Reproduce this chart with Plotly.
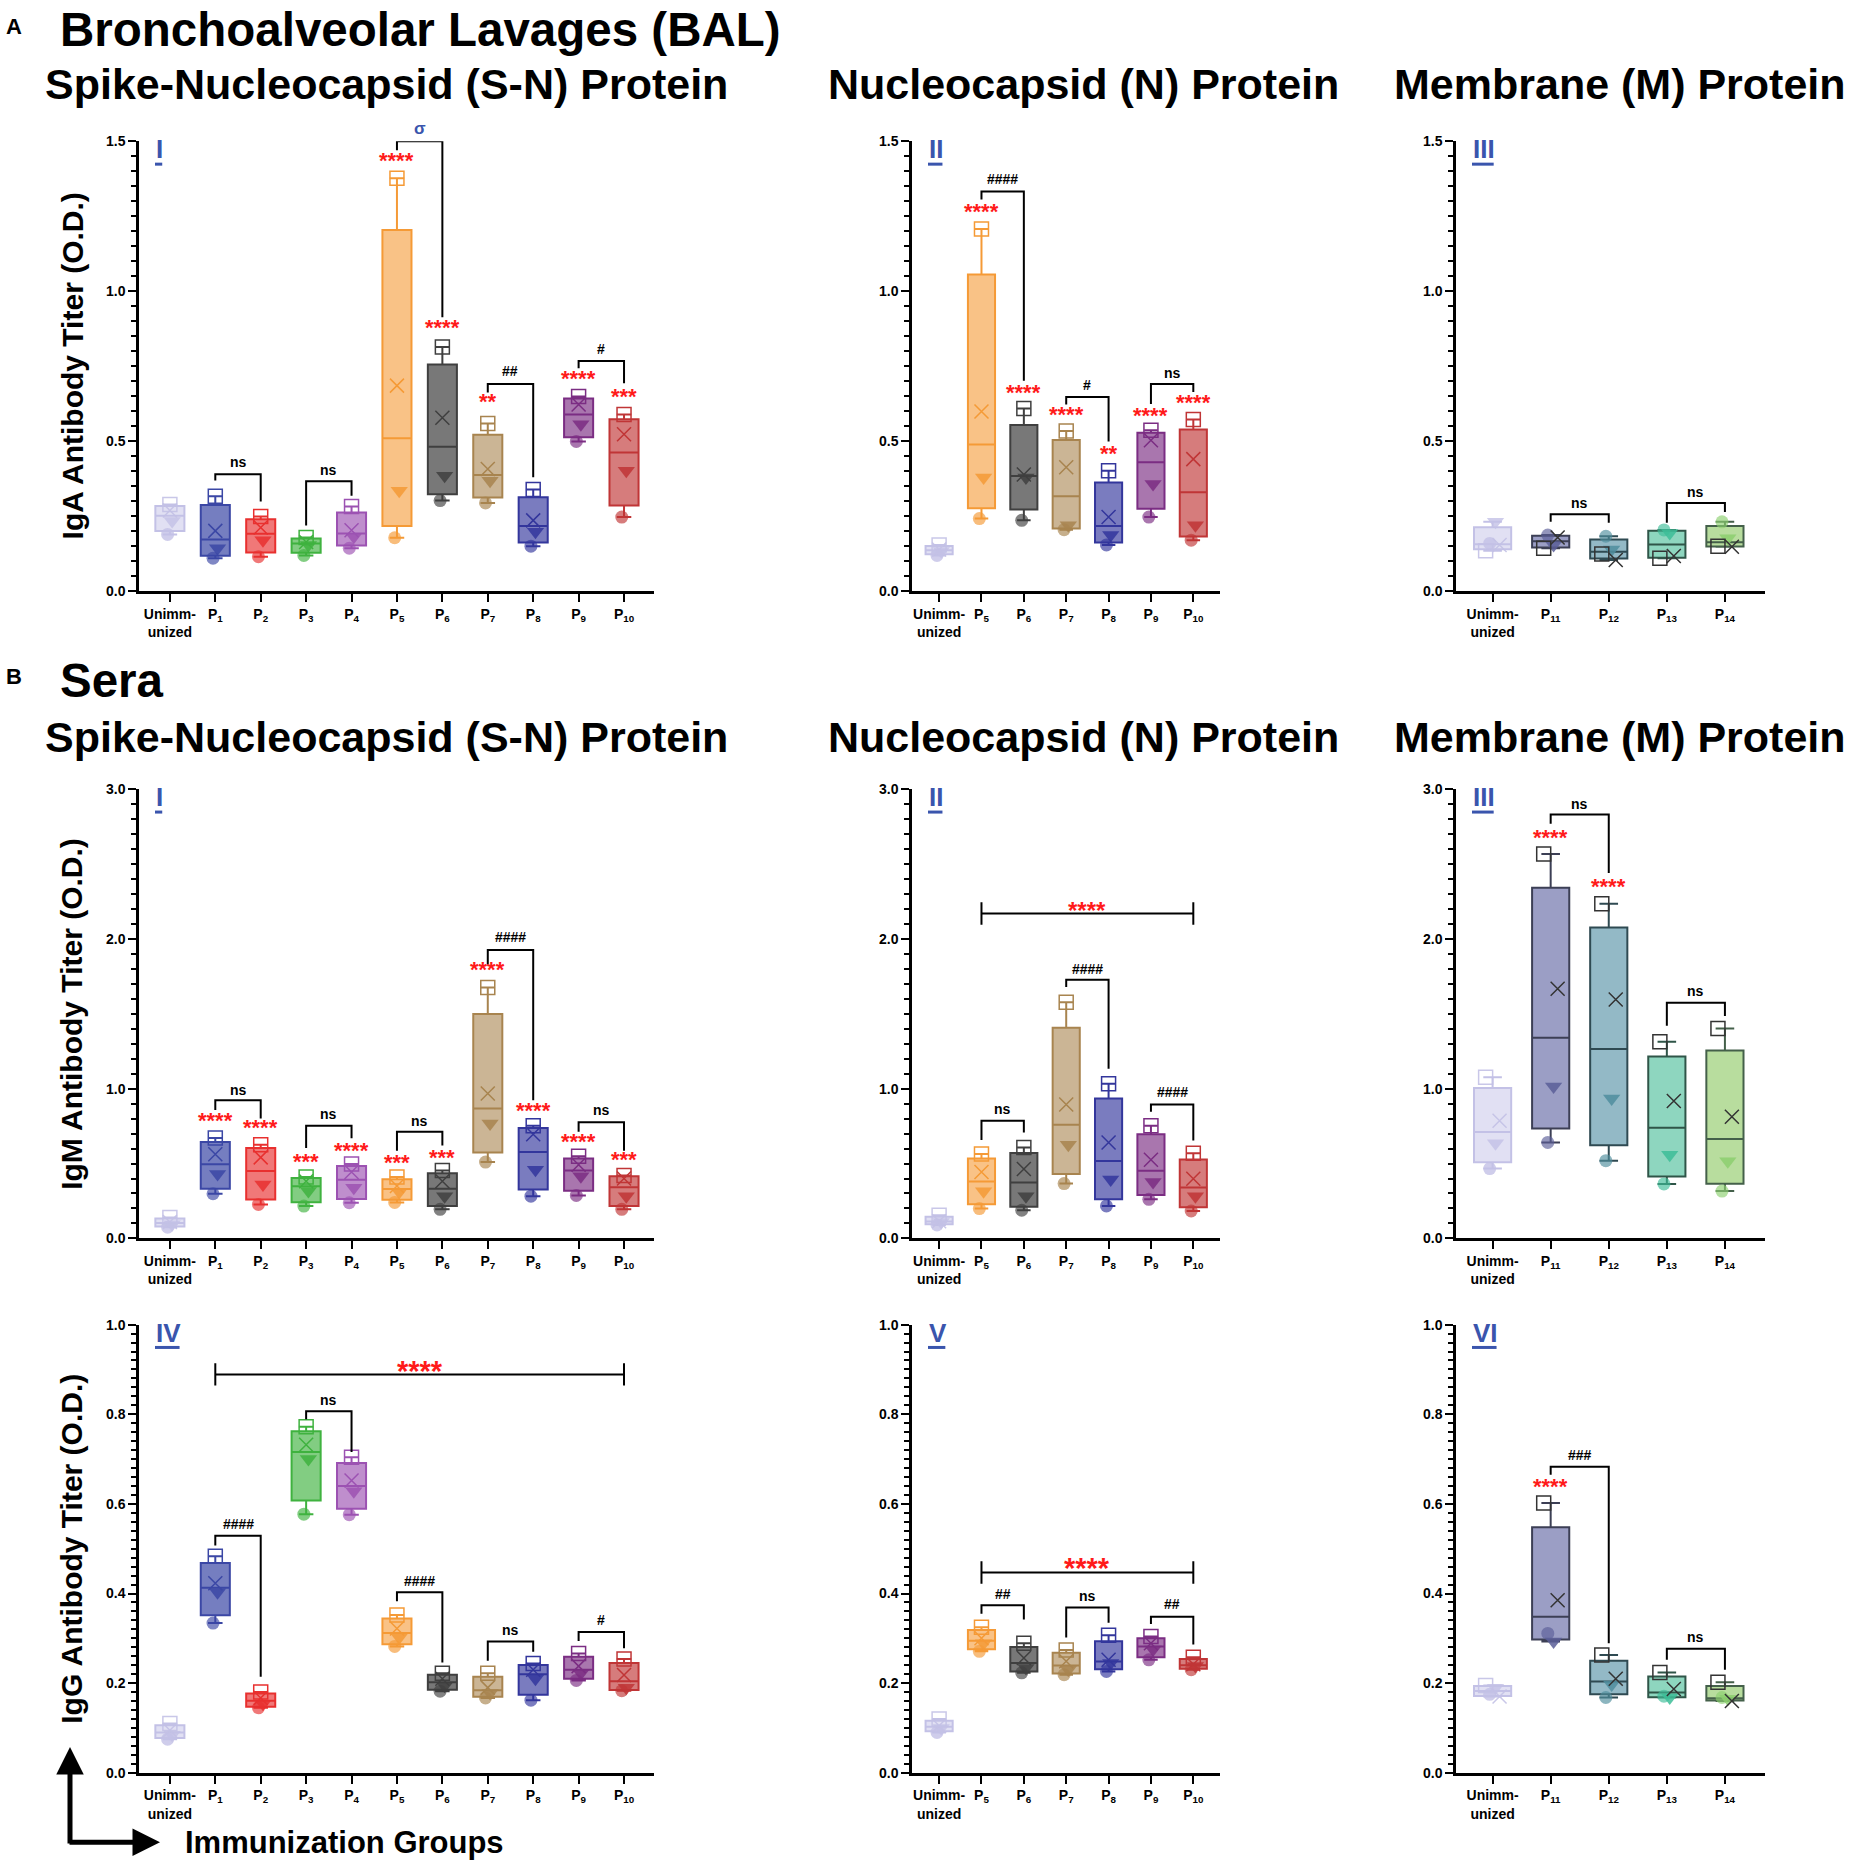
import numpy as np
import plotly.graph_objects as go

W, H = 1850, 1871
FONT = "Liberation Sans, Arial, Helvetica, sans-serif"

# ---------------- group labels ----------------
sn_keys = ["U"] + [f"P{i}" for i in range(1, 11)]
n_keys = ["U"] + [f"P{i}" for i in range(5, 11)]
m_keys = ["U"] + [f"P{i}" for i in range(11, 15)]

# ---------------- data (4 mice per group: square, cross, triangle, circle) ----------------
# A-I  IgA, S-N protein
iga_sn_square = [0.29, 0.317, 0.25, 0.18, 0.283, 1.377, 0.815, 0.56, 0.34, 0.65, 0.59]
iga_sn_cross = [0.27, 0.202, 0.213, 0.165, 0.204, 0.686, 0.579, 0.408, 0.237, 0.623, 0.524]
iga_sn_tri = [0.235, 0.144, 0.171, 0.155, 0.182, 0.336, 0.386, 0.369, 0.199, 0.557, 0.402]
iga_sn_circle = [0.19, 0.111, 0.116, 0.12, 0.144, 0.179, 0.303, 0.295, 0.151, 0.50, 0.248]

# A-II  IgA, N protein
iga_n_square = [0.155, 1.208, 0.61, 0.535, 0.402, 0.537, 0.573]
iga_n_cross = [0.14, 0.60, 0.39, 0.414, 0.248, 0.504, 0.441]
iga_n_tri = [0.135, 0.38, 0.38, 0.221, 0.188, 0.358, 0.221]
iga_n_circle = [0.12, 0.243, 0.237, 0.206, 0.155, 0.248, 0.171]

# A-III  IgA, M protein
iga_m_square = [0.136, 0.144, 0.125, 0.111, 0.151]
iga_m_cross = [0.155, 0.18, 0.105, 0.118, 0.149]
iga_m_tri = [0.232, 0.155, 0.14, 0.195, 0.177]
iga_m_circle = [0.16, 0.188, 0.184, 0.205, 0.232]

# B-I  IgM, S-N protein
igm_sn_square = [0.14, 0.67, 0.625, 0.41, 0.497, 0.41, 0.453, 1.675, 0.752, 0.548, 0.42]
igm_sn_cross = [0.11, 0.562, 0.541, 0.382, 0.444, 0.35, 0.382, 0.968, 0.695, 0.492, 0.40]
igm_sn_tri = [0.095, 0.43, 0.36, 0.316, 0.338, 0.31, 0.282, 0.768, 0.459, 0.415, 0.282]
igm_sn_circle = [0.075, 0.298, 0.227, 0.216, 0.238, 0.24, 0.194, 0.51, 0.282, 0.287, 0.194]

# B-II  IgM, N protein
igm_n_square = [0.155, 0.563, 0.607, 1.578, 1.033, 0.753, 0.569]
igm_n_cross = [0.115, 0.444, 0.463, 0.894, 0.64, 0.525, 0.398]
igm_n_tri = [0.11, 0.315, 0.282, 0.625, 0.393, 0.377, 0.282]
igm_n_circle = [0.09, 0.199, 0.188, 0.366, 0.217, 0.261, 0.183]

# B-III  IgM, M protein
igm_m_square = [1.077, 2.567, 2.236, 1.314, 1.402]
igm_m_cross = [0.786, 1.667, 1.596, 0.918, 0.812]
igm_m_tri = [0.636, 1.014, 0.934, 0.559, 0.515]
igm_m_circle = [0.466, 0.641, 0.519, 0.364, 0.316]

# B-IV  IgG, S-N protein
igg_sn_square = [0.11, 0.483, 0.18, 0.772, 0.704, 0.352, 0.222, 0.222, 0.244, 0.266, 0.254]
igg_sn_cross = [0.095, 0.423, 0.167, 0.732, 0.652, 0.322, 0.21, 0.19, 0.23, 0.238, 0.218]
igg_sn_tri = [0.085, 0.403, 0.154, 0.70, 0.628, 0.302, 0.194, 0.178, 0.21, 0.222, 0.19]
igg_sn_circle = [0.075, 0.334, 0.145, 0.577, 0.576, 0.282, 0.182, 0.167, 0.162, 0.206, 0.183]

# B-V  IgG, N protein
igg_n_square = [0.12, 0.325, 0.289, 0.274, 0.307, 0.304, 0.258]
igg_n_cross = [0.105, 0.30, 0.256, 0.249, 0.252, 0.289, 0.242]
igg_n_tri = [0.10, 0.289, 0.234, 0.23, 0.245, 0.275, 0.238]
igg_n_circle = [0.09, 0.271, 0.223, 0.219, 0.226, 0.252, 0.23]

# B-VI  IgG, M protein
igg_m_square = [0.195, 0.602, 0.263, 0.224, 0.202]
igg_m_cross = [0.17, 0.385, 0.21, 0.187, 0.16]
igg_m_tri = [0.19, 0.293, 0.197, 0.168, 0.165]
igg_m_circle = [0.175, 0.311, 0.168, 0.171, 0.168]

# ---------------- colours ----------------
EDGE = {"U": "#c3c1e6", "P1": "#3b47a5", "P2": "#e8302f", "P3": "#3fb23f", "P4": "#9c52b2",
        "P5": "#f59a36", "P6": "#3f3f3f", "P7": "#a8844f", "P8": "#33369c", "P9": "#7b2d83",
        "P10": "#c03536", "P11": "#3c3f55", "P12": "#2f4a52", "P13": "#2f5548", "P14": "#44604a"}
FILL = {"U": "rgba(200,198,234,0.55)", "P1": "rgba(59,71,165,0.7)", "P2": "rgba(232,48,47,0.65)",
        "P3": "rgba(63,178,63,0.65)", "P4": "rgba(156,82,178,0.65)", "P5": "rgba(245,154,54,0.6)",
        "P6": "rgba(63,63,63,0.7)", "P7": "rgba(168,132,79,0.6)", "P8": "rgba(51,54,156,0.65)",
        "P9": "rgba(123,45,131,0.65)", "P10": "rgba(192,53,54,0.65)", "P11": "#9b9ec5",
        "P12": "#93b9c6", "P13": "#8ed6bf", "P14": "#b8dd9e"}
# triangle / circle colour for the M-protein groups
MARK = {"P11": "#5a5e98", "P12": "#4f8d9d", "P13": "#3dbd98", "P14": "#8ccf6f"}
RED = "#ff1a1a"
BLUE = "#3a55ad"


def rgba(h, a):
    h = h.lstrip("#")
    return f"rgba({int(h[0:2], 16)},{int(h[2:4], 16)},{int(h[4:6], 16)},{a})"


# ---------------- panel geometry (pixels) ----------------
COLS = [(139, 654, [-0.68, 10.66]), (912, 1220, [-0.64, 6.63]), (1456, 1765, [-0.63, 4.69])]
ROWS = [(134.5, 588.5, 1.5, 0.5, 0.05), (788, 1241, 3.0, 1.0, 0.1), (1328, 1780, 1.0, 0.2, 0.02)]

# brackets: (i, j, y_top, y_left_end, y_right_end, text, text_y)
# bars: (i, j, y, text, text_y, star size); stars: (i, text, y)
panels = [
    dict(row=0, col=0, keys=sn_keys, label="I",
         data=(iga_sn_square, iga_sn_cross, iga_sn_tri, iga_sn_circle),
         brackets=[(1, 2, 0.391, 0.37, 0.30, "ns", 0.431), (3, 4, 0.367, 0.22, 0.319, "ns", 0.406),
                   (5, 6, 1.50, 1.47, 0.914, "σ", 1.544), (7, 8, 0.691, 0.663, 0.381, "##", 0.735),
                   (9, 10, 0.768, 0.744, 0.694, "#", 0.808)],
         bars=[],
         stars=[(5, "****", 1.432), (6, "****", 0.877), (7, "**", 0.629), (9, "****", 0.705),
                (10, "***", 0.647)]),
    dict(row=0, col=1, keys=n_keys, label="II",
         data=(iga_n_square, iga_n_cross, iga_n_tri, iga_n_circle),
         brackets=[(1, 2, 1.333, 1.306, 0.702, "####", 1.374), (3, 4, 0.648, 0.623, 0.50, "#", 0.689),
                   (5, 6, 0.691, 0.625, 0.665, "ns", 0.727)],
         bars=[],
         stars=[(1, "****", 1.264), (2, "****", 0.661), (3, "****", 0.587), (4, "**", 0.455),
                (5, "****", 0.584), (6, "****", 0.625)]),
    dict(row=0, col=2, keys=m_keys, label="III",
         data=(iga_m_square, iga_m_cross, iga_m_tri, iga_m_circle),
         brackets=[(1, 2, 0.257, 0.232, 0.229, "ns", 0.295), (3, 4, 0.295, 0.229, 0.265, "ns", 0.331)],
         bars=[], stars=[]),
    dict(row=1, col=0, keys=sn_keys, label="I",
         data=(igm_sn_square, igm_sn_cross, igm_sn_tri, igm_sn_circle),
         brackets=[(1, 2, 0.923, 0.857, 0.801, "ns", 0.993), (3, 4, 0.752, 0.603, 0.669, "ns", 0.828),
                   (5, 6, 0.713, 0.585, 0.62, "ns", 0.786), (7, 8, 1.927, 1.83, 0.923, "####", 2.01),
                   (9, 10, 0.775, 0.713, 0.585, "ns", 0.857)],
         bars=[],
         stars=[(1, "****", 0.784), (2, "****", 0.731), (3, "***", 0.51), (4, "****", 0.581),
                (5, "***", 0.503), (6, "***", 0.536), (7, "****", 1.79), (8, "****", 0.85),
                (9, "****", 0.642), (10, "***", 0.521)]),
    dict(row=1, col=1, keys=n_keys, label="II",
         data=(igm_n_square, igm_n_cross, igm_n_tri, igm_n_circle),
         brackets=[(1, 2, 0.785, 0.658, 0.708, "ns", 0.863), (3, 4, 1.728, 1.68, 1.133, "####", 1.799),
                   (5, 6, 0.894, 0.846, 0.654, "####", 0.978)],
         bars=[(1, 6, 2.17, "****", 2.236, 24)], stars=[]),
    dict(row=1, col=2, keys=m_keys, label="III",
         data=(igm_m_square, igm_m_cross, igm_m_tri, igm_m_circle),
         brackets=[(1, 2, 2.832, 2.77, 2.44, "ns", 2.903), (3, 4, 1.574, 1.42, 1.486, "ns", 1.651)],
         bars=[], stars=[(1, "****", 2.673), (2, "****", 2.347)]),
    dict(row=2, col=0, keys=sn_keys, label="IV",
         data=(igg_sn_square, igg_sn_cross, igg_sn_tri, igg_sn_circle),
         brackets=[(1, 2, 0.529, 0.507, 0.214, "####", 0.555), (3, 4, 0.807, 0.789, 0.716, "ns", 0.831),
                   (5, 6, 0.403, 0.383, 0.246, "####", 0.427), (7, 8, 0.293, 0.25, 0.27, "ns", 0.318),
                   (9, 10, 0.314, 0.294, 0.278, "#", 0.342)],
         bars=[(1, 10, 0.889, "****", 0.912, 29)], stars=[]),
    dict(row=2, col=1, keys=n_keys, label="V",
         data=(igg_n_square, igg_n_cross, igg_n_tri, igg_n_circle),
         brackets=[(1, 2, 0.374, 0.355, 0.342, "##", 0.398), (3, 4, 0.369, 0.302, 0.335, "ns", 0.394),
                   (5, 6, 0.348, 0.332, 0.286, "##", 0.376)],
         bars=[(1, 6, 0.447, "****", 0.473, 29)], stars=[]),
    dict(row=2, col=2, keys=m_keys, label="VI",
         data=(igg_m_square, igg_m_cross, igg_m_tri, igg_m_circle),
         brackets=[(1, 2, 0.683, 0.665, 0.289, "###", 0.709), (3, 4, 0.277, 0.252, 0.23, "ns", 0.302)],
         bars=[], stars=[(1, "****", 0.637)]),
]

fig = go.Figure()
layout = dict(width=W, height=H, margin=dict(l=0, r=0, t=0, b=0), paper_bgcolor="white",
              plot_bgcolor="white", showlegend=False, font=dict(family=FONT, color="black"))
shapes, annotations = [], []

CHAR_W = {"I": 0.278, "V": 0.667}

for k, p in enumerate(panels, start=1):
    sfx = "" if k == 1 else str(k)
    xa, ya = "x" + sfx, "y" + sfx
    cx0, cx1, xr = COLS[p["col"]]
    ry0, ry1, ymax, dtick, mdt = ROWS[p["row"]]
    keys = p["keys"]
    n = len(keys)
    m_panel = p["col"] == 2
    labels = ["Unimm-<br>unized"] + [f"P<sub>{kk[1:]}</sub>" for kk in keys[1:]]

    layout["xaxis" + sfx] = dict(domain=[cx0 / W, cx1 / W], anchor=ya, range=xr, tickvals=list(range(n)),
                                 ticktext=labels, showline=True, linewidth=2.5, linecolor="black",
                                 ticks="outside", ticklen=8, tickwidth=2, tickcolor="black",
                                 showgrid=False, zeroline=False,
                                 tickfont=dict(size=14, family=FONT, weight="bold"))
    layout["yaxis" + sfx] = dict(domain=[1 - ry1 / H, 1 - ry0 / H], anchor=xa, range=[0, ymax],
                                 dtick=dtick, tickformat=".1f", showline=True, linewidth=2.5,
                                 linecolor="black", ticks="outside", ticklen=8, tickwidth=2,
                                 tickcolor="black", showgrid=False, zeroline=False,
                                 minor=dict(dtick=mdt, ticks="outside", ticklen=5, tickwidth=1.5,
                                            tickcolor="black", showgrid=False),
                                 tickfont=dict(size=14, family=FONT, weight="bold"))

    square, cross, tri, circle = p["data"]
    # boxes computed from the four mice of each group
    for i, kk in enumerate(keys):
        vals = np.array([square[i], cross[i], tri[i], circle[i]])
        q1, med, q3 = np.percentile(vals, [25, 50, 75], method="weibull")
        edge = EDGE[kk]
        fig.add_trace(go.Box(x=[i], q1=[q1], median=[med], q3=[q3], lowerfence=[vals.min()],
                             upperfence=[vals.max()], orientation="v", width=0.64, whiskerwidth=0.5,
                             fillcolor=FILL[kk], line=dict(color=edge, width=2), boxpoints=False,
                             xaxis=xa, yaxis=ya, hoverinfo="skip"))

    def dot_col(kk, a):
        if kk == "U":
            return rgba(EDGE["U"], 0.8)
        return rgba(MARK.get(kk, EDGE[kk]), a)

    def line_col(kk):
        if kk == "U":
            return rgba(EDGE["U"], 0.9)
        return "#333333" if m_panel else EDGE[kk]

    pos = np.arange(n)
    fig.add_trace(go.Scatter(x=pos - 0.05, y=circle, mode="markers", xaxis=xa, yaxis=ya, hoverinfo="skip",
                             marker=dict(symbol="circle", size=13, color=[dot_col(kk, 0.65) for kk in keys],
                                         line=dict(width=0))))
    fig.add_trace(go.Scatter(x=pos + 0.05, y=tri, mode="markers", xaxis=xa, yaxis=ya, hoverinfo="skip",
                             marker=dict(symbol="triangle-down", size=15,
                                         color=[dot_col(kk, 0.85) for kk in keys], line=dict(width=0))))
    fig.add_trace(go.Scatter(x=pos + (0.12 if m_panel else 0), y=cross, mode="markers", xaxis=xa, yaxis=ya,
                             hoverinfo="skip",
                             marker=dict(symbol="x-thin-open", size=14, color=[line_col(kk) for kk in keys],
                                         line=dict(width=1.5))))
    fig.add_trace(go.Scatter(x=pos - (0.12 if m_panel else 0), y=square, mode="markers", xaxis=xa, yaxis=ya,
                             hoverinfo="skip",
                             marker=dict(symbol="square-open", size=14, color=[line_col(kk) for kk in keys],
                                         line=dict(width=1.5))))

    # significance brackets
    for i, j, yt, yl, yr, txt, ty in p["brackets"]:
        shapes.append(dict(type="path", xref=xa, yref=ya, path=f"M {i},{yl} L {i},{yt} L {j},{yt} L {j},{yr}",
                           line=dict(color="black", width=2)))
        col = BLUE if txt == "σ" else "black"
        # place text relative to the panel so labels above the axis top still show
        annotations.append(dict(xref=xa + " domain", yref=ya + " domain",
                                x=((i + j) / 2 - xr[0]) / (xr[1] - xr[0]), y=ty / ymax, text=txt,
                                showarrow=False, xanchor="center", yanchor="middle",
                                font=dict(size=17 if txt == "σ" else 14, color=col, family=FONT,
                                          weight="bold")))
    for i, j, yb, txt, ty, fs in p["bars"]:
        d = 0.025 * ymax
        shapes.append(dict(type="path", xref=xa, yref=ya,
                           path=f"M {i},{yb - d} L {i},{yb + d} M {i},{yb} L {j},{yb} M {j},{yb - d} L {j},{yb + d}",
                           line=dict(color="black", width=2)))
        annotations.append(dict(xref=xa, yref=ya, x=(i + j) / 2, y=ty, text=txt, showarrow=False, yshift=-7,
                                xanchor="center", yanchor="middle",
                                font=dict(size=fs, color=RED, family=FONT, weight="bold")))
    for i, txt, ty in p["stars"]:
        annotations.append(dict(xref=xa, yref=ya, x=i, y=ty, text=txt, showarrow=False, yshift=1,
                                xanchor="center", yanchor="middle",
                                font=dict(size=22, color=RED, family=FONT, weight="bold")))

    # roman panel label, underlined
    lx = cx0 + 16
    annotations.append(dict(xref="paper", yref="paper", x=lx / W, y=1 - (ry0 + 8) / H, text=p["label"],
                            showarrow=False, xanchor="left", yanchor="middle", xshift=-1,
                            font=dict(size=26, color=BLUE, family=FONT, weight="bold")))
    uw = sum(CHAR_W[c] for c in p["label"]) * 26
    shapes.append(dict(type="line", xref="paper", yref="paper", x0=lx / W, x1=(lx + uw) / W,
                       y0=1 - (ry0 + 23) / H, y1=1 - (ry0 + 23) / H, line=dict(color=BLUE, width=3)))


def text_at(x, y, txt, size, **kw):
    d = dict(xref="paper", yref="paper", x=x / W, y=1 - y / H, text=txt, showarrow=False,
             xanchor="left", yanchor="middle", font=dict(size=size, family=FONT, color="black", weight="bold"))
    d.update(kw)
    annotations.append(d)


# headings
text_at(4, 19, "A", 22)
text_at(58, 22, "Bronchoalveolar Lavages (BAL)", 47.5)
text_at(4, 674, "B", 22)
text_at(58, 678, "Sera", 47.5)
for yy in (77, 735):
    text_at(43, yy, "Spike-Nucleocapsid (S-N) Protein", 43)
    text_at(826, yy, "Nucleocapsid (N) Protein", 43)
    text_at(1392, yy, "Membrane (M) Protein", 43)

# y-axis titles
for title, (ry0, ry1, *_) in zip(["IgA Antibody Titer (O.D.)", "IgM Antibody Titer (O.D.)",
                                  "IgG Antibody Titer (O.D.)"], ROWS):
    text_at(72, (ry0 + ry1) / 2, title, 30, xanchor="center", textangle=-90)

# bottom axis hint
text_at(183, 1850, "Immunization Groups", 31)
annotations.append(dict(xref="paper", yref="paper", x=70 / W, y=1 - 1754 / H, ax=0, ay=98, text="",
                        showarrow=True, arrowhead=2, arrowsize=1.1, arrowwidth=5, arrowcolor="black"))
annotations.append(dict(xref="paper", yref="paper", x=160 / W, y=1 - 1850 / H, ax=-92, ay=0, text="",
                        showarrow=True, arrowhead=2, arrowsize=1.1, arrowwidth=5, arrowcolor="black"))

layout["shapes"] = shapes
layout["annotations"] = annotations
fig.update_layout(**layout)

# the page's default body margin would push the figure 8 px off; remove it
fig.write_html("out.html", config={"displayModeBar": False},
               post_script="document.body.style.margin='0';")
